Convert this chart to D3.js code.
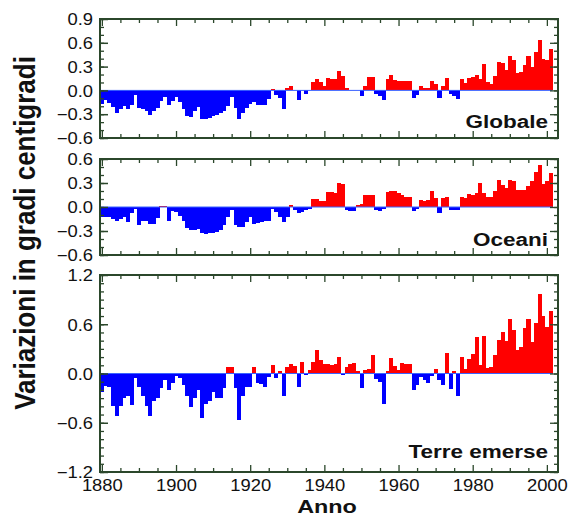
<!DOCTYPE html>
<html>
<head>
<meta charset="utf-8">
<script src="https://cdn.jsdelivr.net/npm/d3@7"></script>
<style>
    body { margin: 0; background: #fff; }
    svg { display: block; }
    text { font-family: "Liberation Sans", Arial, Helvetica, sans-serif; fill: #111; }
</style>
</head>
<body>
<svg width="571" height="517"></svg>
<script>
// anni 1880 - 2001
const years = d3.range(1880, 2002);

const globale = [
    -0.17, -0.12, -0.16, -0.21, -0.28, -0.24, -0.20, -0.24, -0.19, -0.06,
    -0.22, -0.24, -0.26, -0.31, -0.26, -0.22, -0.13, -0.08, -0.19, -0.13,
    -0.08, -0.14, -0.24, -0.32, -0.33, -0.26, -0.21, -0.36, -0.36, -0.35,
    -0.32, -0.31, -0.29, -0.26, -0.20, -0.08, -0.22, -0.36, -0.28, -0.22,
    -0.17, -0.14, -0.19, -0.18, -0.19, -0.11, 0.02, -0.06, -0.09, -0.24,
    0.03, 0.05, 0.01, -0.12, 0.01, -0.05, 0.01, 0.11, 0.15, 0.10,
    0.05, 0.16, 0.15, 0.15, 0.25, 0.18, 0.03, 0.01, 0.01, 0.01,
    -0.07, 0.05, 0.17, 0.17, -0.05, -0.07, -0.12, 0.14, 0.19, 0.13,
    0.12, 0.12, 0.12, 0.12, -0.10, -0.06, 0.06, 0.03, 0.03, 0.12,
    0.08, -0.09, 0.05, 0.16, -0.05, -0.07, -0.11, 0.15, 0.09, 0.16,
    0.17, 0.20, 0.15, 0.33, 0.10, 0.08, 0.18, 0.36, 0.35, 0.26,
    0.43, 0.38, 0.22, 0.23, 0.32, 0.43, 0.30, 0.48, 0.64, 0.40,
    0.38, 0.52
];

const oceani = [
    -0.12, -0.12, -0.13, -0.15, -0.17, -0.15, -0.12, -0.19, -0.08, -0.03,
    -0.23, -0.17, -0.18, -0.21, -0.21, -0.14, 0.01, 0.01, -0.18, -0.05,
    -0.06, -0.11, -0.18, -0.26, -0.29, -0.29, -0.27, -0.32, -0.34, -0.33,
    -0.33, -0.31, -0.29, -0.23, -0.12, -0.04, -0.23, -0.25, -0.25, -0.19,
    -0.13, -0.21, -0.20, -0.19, -0.18, -0.17, -0.02, -0.06, -0.12, -0.19,
    -0.12, 0.03, -0.04, -0.08, -0.06, -0.04, -0.03, 0.10, 0.10, 0.07,
    0.07, 0.19, 0.19, 0.18, 0.30, 0.29, -0.04, -0.05, -0.05, 0.02,
    0.04, 0.15, 0.15, 0.15, -0.04, -0.05, -0.03, 0.19, 0.20, 0.20,
    0.17, 0.15, 0.13, 0.13, -0.05, -0.02, 0.09, 0.07, 0.09, 0.20,
    0.11, -0.08, 0.11, 0.13, -0.04, -0.04, -0.04, 0.13, 0.11, 0.16,
    0.15, 0.18, 0.30, 0.18, 0.13, 0.13, 0.20, 0.34, 0.27, 0.24,
    0.34, 0.32, 0.21, 0.21, 0.21, 0.26, 0.32, 0.44, 0.52, 0.29,
    0.32, 0.43
];

const terre = [
    -0.22, -0.15, -0.17, -0.40, -0.52, -0.40, -0.30, -0.28, -0.38, -0.05,
    -0.16, -0.28, -0.39, -0.52, -0.33, -0.30, -0.18, -0.08, -0.20, -0.12,
    -0.03, -0.05, -0.14, -0.28, -0.41, -0.30, -0.20, -0.54, -0.37, -0.33,
    -0.22, -0.30, -0.30, -0.18, 0.08, 0.08, -0.18, -0.57, -0.28, -0.17,
    -0.16, 0.08, -0.12, -0.13, -0.16, -0.04, 0.10, -0.06, 0.03, -0.28,
    0.08, 0.11, 0.09, -0.17, 0.14, -0.02, 0.04, 0.14, 0.29, 0.17,
    0.12, 0.12, 0.10, 0.12, 0.20, -0.02, 0.08, 0.12, 0.13, 0.03,
    -0.18, 0.04, 0.06, 0.23, -0.07, -0.10, -0.37, 0.03, 0.19, 0.09,
    0.04, 0.13, 0.12, 0.12, -0.20, -0.14, -0.04, -0.08, -0.12, -0.03,
    0.05, -0.08, -0.14, 0.25, -0.19, 0.03, -0.28, 0.20, 0.05, 0.18,
    0.24, 0.44, 0.10, 0.46, 0.07, 0.08, 0.23, 0.41, 0.51, 0.40,
    0.66, 0.53, 0.29, 0.32, 0.55, 0.67, 0.38, 0.61, 0.97, 0.70,
    0.57, 0.76
];

const panelNames = ['Globale', 'Oceani', 'Terre emerse'];
const xTickYears = [1880, 1900, 1920, 1940, 1960, 1980, 2000];
const yTicks1 = [-0.6, -0.3, 0.0, 0.3, 0.6, 0.9];
const yTicks2 = [-0.6, -0.3, 0.0, 0.3, 0.6];
const yTicks3 = [-1.2, -0.6, 0.0, 0.6, 1.2];

const svg = d3.select('svg');
const frameCol = '#2b472b';
const x = d3.scaleLinear().domain([1879.5, 2003]).range([100, 558]);
const minorYears = d3.range(1885, 2003, 5).filter(d => d % 20 != 0);

const panels = [
    { data: globale, ticks: yTicks1, top: 19, bottom: 138, name: panelNames[0], ly: 128 },
    { data: oceani, ticks: yTicks2, top: 159, bottom: 255, name: panelNames[1], ly: 246 },
    { data: terre, ticks: yTicks3, top: 275, bottom: 472, name: panelNames[2], ly: 458 }
];

panels.forEach((p, k) => {
    const dom = d3.extent(p.ticks);
    const y = d3.scaleLinear().domain(dom).range([p.bottom, p.top]);
    const g = svg.append('g');
    const rows = years.map((yr, i) => ({ yr: yr, v: p.data[i] }));

    // barre
    g.append('g').selectAll('rect')
        .data(rows)
        .join('rect')
        .attr('x', d => x(d.yr - 0.5))
        .attr('width', d => x(d.yr + 0.5) - x(d.yr - 0.5) + 0.4)
        .attr('y', d => y(Math.max(0, d.v)))
        .attr('height', d => Math.abs(y(d.v) - y(0)))
        .attr('fill', d => d.v >= 0 ? '#ff0000' : '#0000ff')
        .attr('shape-rendering', 'crispEdges');

    // linea dello zero
    g.append('line')
        .attr('x1', x(1879.5)).attr('x2', x(2001.5))
        .attr('y1', y(0)).attr('y2', y(0))
        .attr('stroke', '#3a62ff').attr('stroke-width', 1);

    const minorY = d3.range(Math.round(dom[0] * 10), Math.round(dom[1] * 10) + 1)
        .map(d => d / 10);

    // tacche asse sinistro con etichette
    const left = g.append('g').attr('transform', `translate(${x.range()[0]},0)`)
        .call(d3.axisLeft(y).tickValues(p.ticks).tickSize(-8).tickPadding(7)
            .tickFormat(d3.format('.1f')));
    left.select('.domain').remove();
    left.selectAll('line').attr('stroke', frameCol).attr('stroke-width', 1.5);
    left.selectAll('text')
        .attr('x', null).attr('dy', '0.36em')
        .attr('transform', 'translate(-7,0) scale(1.15,1)')
        .style('font-size', '16px').style('fill', '#111');

    const leftMin = g.append('g').attr('transform', `translate(${x.range()[0]},0)`)
        .call(d3.axisLeft(y).tickValues(minorY).tickSize(-4).tickFormat(''));
    leftMin.select('.domain').remove();
    leftMin.selectAll('line').attr('stroke', frameCol).attr('stroke-width', 1.3);

    [[8, p.ticks], [4, minorY]].forEach(([len, vals]) => {
        const r = g.append('g').attr('transform', `translate(${x.range()[1]},0)`)
            .call(d3.axisRight(y).tickValues(vals).tickSize(-len).tickFormat(''));
        r.select('.domain').remove();
        r.selectAll('line').attr('stroke', frameCol).attr('stroke-width', 1.3);
    });

    // tacche asse x, sopra e sotto
    [[7, xTickYears], [4, minorYears]].forEach(([len, vals]) => {
        const b = g.append('g').attr('transform', `translate(0,${p.bottom})`)
            .call(d3.axisBottom(x).tickValues(vals).tickSize(-len).tickFormat(''));
        b.select('.domain').remove();
        b.selectAll('line').attr('stroke', frameCol).attr('stroke-width', 1.3);
        const t = g.append('g').attr('transform', `translate(0,${p.top})`)
            .call(d3.axisTop(x).tickValues(vals).tickSize(-len).tickFormat(''));
        t.select('.domain').remove();
        t.selectAll('line').attr('stroke', frameCol).attr('stroke-width', 1.3);
    });

    if (k == 2) {
        const lab = g.append('g').attr('transform', `translate(0,${p.bottom})`)
            .call(d3.axisBottom(x).tickValues(xTickYears).tickSize(0).tickPadding(0)
                .tickFormat(d3.format('d')));
        lab.select('.domain').remove();
        lab.selectAll('text')
            .attr('y', null).attr('dy', null)
            .attr('transform', 'translate(0,19) scale(1.15,1)')
            .style('font-size', '16px').style('fill', '#111');
    }

    // cornice
    g.append('rect')
        .attr('x', x.range()[0]).attr('y', p.top)
        .attr('width', x.range()[1] - x.range()[0]).attr('height', p.bottom - p.top)
        .attr('fill', 'none').attr('stroke', frameCol).attr('stroke-width', 2);

    g.append('text')
        .attr('transform', `translate(548,${p.ly}) scale(1.25,1)`)
        .attr('text-anchor', 'end')
        .style('font-size', '18px').style('font-weight', 'bold')
        .text(p.name);
});

svg.append('text')
    .attr('transform', 'translate(35,233) scale(1.15,1) rotate(-90)')
    .attr('text-anchor', 'middle')
    .style('font-size', '26px').style('font-weight', 'bold')
    .text('Variazioni in gradi centigradi');

svg.append('text')
    .attr('transform', 'translate(327,513) scale(1.3,1)')
    .attr('text-anchor', 'middle')
    .style('font-size', '18px').style('font-weight', 'bold')
    .text('Anno');
</script>
</body>
</html>
